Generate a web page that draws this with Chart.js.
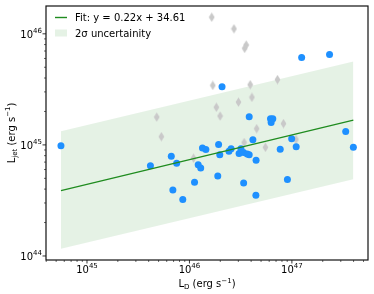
<!DOCTYPE html>
<html>
<head>
<meta charset="utf-8">
<script src="https://cdn.jsdelivr.net/npm/chart.js@4"></script>
<style>
html,body{margin:0;padding:0;background:#fff;}
canvas{display:block;}
</style>
</head>
<body>
<canvas id="c" width="374" height="294" style="width:374px;height:294px"></canvas>
<script>
// ---- data ----
const blueX = [5.57e44,4.16e45,6.65e45,7.50e45,6.89e45,8.61e45,1.121e46,1.217e46,1.288e46,1.340e46,1.446e46,1.89e46,1.925e46,1.977e46,2.08e46,2.43e46,2.55e46,3.05e46,3.18e46,3.37e46,3.66e46,3.83e46,3.38e46,3.83e46,4.16e46,4.47e46,4.45e46,6.18e46,6.51e46,6.27e46,7.69e46,9.04e46,9.95e46,1.101e47,1.245e47,2.33e47,3.35e47,3.98e47];
const blueY = [9.8e44,6.49e44,7.89e44,6.84e44,3.93e44,3.23e44,4.60e44,6.62e44,6.19e44,9.4e44,9.08e44,5.25e44,1.006e45,8.14e44,3.33e45,8.75e44,9.21e44,8.36e44,9.25e44,8.53e44,8.26e44,8.14e44,4.55e44,1.79e45,1.11e45,7.29e44,3.52e44,1.72e45,1.72e45,1.59e45,9.12e44,4.87e44,1.136e45,9.6e44,6.11e45,6.53e45,1.32e45,9.5e44];
const grayX = [4.79e45,5.32e45,1.096e46,1.65e46,1.69e46,1.83e46,1.99e46,2.72e46,3.46e46,3.58e46,3.01e46,3.42e46,3.92e46,4.07e46,4.53e46,5.51e46,7.23e46,8.27e46,1.096e47];
const grayY = [1.78e45,1.186e45,7.6e44,1.41e46,3.43e45,2.18e45,1.82e45,1.11e46,7.4e45,7.93e45,2.43e45,1.05e45,3.48e45,2.68e45,1.40e45,9.5e44,3.87e45,1.556e45,1.12e45];
const fitX = [5.57e44, 3.98e47];
const fitY = [3.88e44, 1.67e45];
const bandUpper = [1.33e45, 5.62e45];
const bandLower = [1.16e44, 4.9e44];
const xTicks = [1e45, 1e46, 1e47];
const xTickLabels = [['10','45'],['10','46'],['10','47']];
const yTicks = [1e44, 1e45, 1e46];
const yTickLabels = [['10','44'],['10','45'],['10','46']];
const legendLabels = ['Fit: y = 0.22x + 34.61', '2\u03c3 uncertainity'];
// ----------------------------------------

const FONT = '"DejaVu Sans", sans-serif';
const LINE_COLOR = '#1f8c1f';
const BAND_COLOR = 'rgba(0,128,0,0.1)';

function pts(xs, ys){ return xs.map((x,i)=>({x:x, y:ys[i]})); }

// thin diamond marker
const dia = document.createElement('canvas');
dia.width = 7; dia.height = 10;
(function(){
  const g = dia.getContext('2d');
  g.fillStyle = '#c9c9c9';
  g.beginPath();
  g.moveTo(3.5,0.3); g.lineTo(6.4,5); g.lineTo(3.5,9.7); g.lineTo(0.6,5); g.closePath();
  g.fill();
})();

function rich(ctx, parts, x, y, align){
  let w = 0;
  parts.forEach(p=>{ ctx.font = p[1]+'px '+FONT; w += ctx.measureText(p[0]).width; });
  let cx = align==='right' ? x-w : (align==='center' ? x-w/2 : x);
  parts.forEach(p=>{ ctx.font = p[1]+'px '+FONT; ctx.fillText(p[0], cx, y+p[2]); cx += ctx.measureText(p[0]).width; });
}

function minorTicks(min, max){
  const out = [];
  const e0 = Math.floor(Math.log10(min)), e1 = Math.ceil(Math.log10(max));
  for (let e=e0; e<=e1; e++) for (let m=2; m<=9; m++){ const v = m*Math.pow(10,e); if (v>=min && v<=max) out.push(v); }
  return out;
}

const decor = {
  id: 'decor',
  afterDraw(chart){
    const ctx = chart.ctx, a = chart.chartArea;
    const xs = chart.scales.x, ys = chart.scales.y;
    ctx.save();
    ctx.fillStyle = '#000';
    ctx.strokeStyle = '#000';
    ctx.textAlign = 'left';
    ctx.textBaseline = 'alphabetic';
    // ticks
    ctx.lineWidth = 0.8;
    ctx.beginPath();
    xTicks.forEach(v=>{ const p = xs.getPixelForValue(v); ctx.moveTo(p, a.bottom); ctx.lineTo(p, a.bottom+3.5); });
    yTicks.forEach(v=>{ const p = ys.getPixelForValue(v); ctx.moveTo(a.left, p); ctx.lineTo(a.left-3.5, p); });
    ctx.stroke();
    ctx.lineWidth = 0.6;
    ctx.beginPath();
    minorTicks(xs.min, xs.max).forEach(v=>{ const p = xs.getPixelForValue(v); ctx.moveTo(p, a.bottom); ctx.lineTo(p, a.bottom+2); });
    minorTicks(ys.min, ys.max).forEach(v=>{ const p = ys.getPixelForValue(v); ctx.moveTo(a.left, p); ctx.lineTo(a.left-2, p); });
    ctx.stroke();
    // frame
    ctx.lineWidth = 1.2;
    ctx.strokeStyle = '#111';
    ctx.strokeRect(a.left, a.top, a.right-a.left, a.bottom-a.top);
    // tick labels
    ctx.fillStyle = '#000';
    xTicks.forEach((v,i)=>{
      const p = xs.getPixelForValue(v);
      rich(ctx, [[xTickLabels[i][0],10,0],[xTickLabels[i][1],7,-5]], p, a.bottom+12.5, 'center');
    });
    yTicks.forEach((v,i)=>{
      const p = ys.getPixelForValue(v);
      rich(ctx, [[yTickLabels[i][0],10,0],[yTickLabels[i][1],7,-5]], a.left-4, p+3.8, 'right');
    });
    // axis titles
    const cx = (a.left+a.right)/2;
    rich(ctx, [['L',10,0],['D',7,2],[' (erg s',10,0],['\u22121',7,-4.5],[')',10,0]], cx, 287, 'center');
    ctx.save();
    ctx.translate(14.5, (a.top+a.bottom)/2);
    ctx.rotate(-Math.PI/2);
    rich(ctx, [['L',10,0],['jet',7,2],[' (erg s',10,0],['\u22121',7,-4.5],[')',10,0]], 0, 0, 'center');
    ctx.restore();
    // legend
    ctx.strokeStyle = LINE_COLOR;
    ctx.lineWidth = 1.4;
    ctx.beginPath(); ctx.moveTo(55, 17.5); ctx.lineTo(67, 17.5); ctx.stroke();
    ctx.fillStyle = BAND_COLOR;
    ctx.fillRect(55, 29.5, 12, 7);
    ctx.fillStyle = '#000';
    ctx.font = '10px '+FONT;
    ctx.fillText(legendLabels[0], 75, 21);
    ctx.fillText(legendLabels[1], 75, 36.5);
    ctx.restore();
  }
};

new Chart(document.getElementById('c'), {
  type: 'scatter',
  data: {
    datasets: [
      { type:'line', data: pts(fitX, fitY), borderColor: LINE_COLOR, borderWidth: 1.4, pointRadius: 0, fill: false, order: 0 },
      { data: pts(blueX, blueY), backgroundColor: '#1e90ff', borderWidth: 0, pointRadius: 3.5, order: 1 },
      { data: pts(grayX, grayY), pointStyle: dia, pointRadius: 5, order: 2 },
      { type:'line', data: pts(fitX, bandUpper), borderWidth: 0, borderColor: 'rgba(0,0,0,0)', pointRadius: 0, fill: '+1', backgroundColor: BAND_COLOR, order: 3 },
      { type:'line', data: pts(fitX, bandLower), borderWidth: 0, borderColor: 'rgba(0,0,0,0)', pointRadius: 0, fill: false, order: 4 }
    ]
  },
  options: {
    responsive: false,
    animation: false,
    devicePixelRatio: 1,
    layout: { padding: { left: 0, right: 5, top: 4, bottom: 0 } },
    plugins: { legend: { display: false }, tooltip: { enabled: false } },
    scales: {
      x: { type: 'logarithmic', position: 'bottom', min: 3.98e44, max: 5.53e47,
           grid: { display: false }, border: { display: false }, ticks: { display: false },
           afterFit(s){ s.height = 34; } },
      y: { type: 'logarithmic', position: 'left', min: 9.2e43, max: 1.78e46,
           grid: { display: false }, border: { display: false }, ticks: { display: false },
           afterFit(s){ s.width = 46; } }
    }
  },
  plugins: [decor]
});
</script>
</body>
</html>
